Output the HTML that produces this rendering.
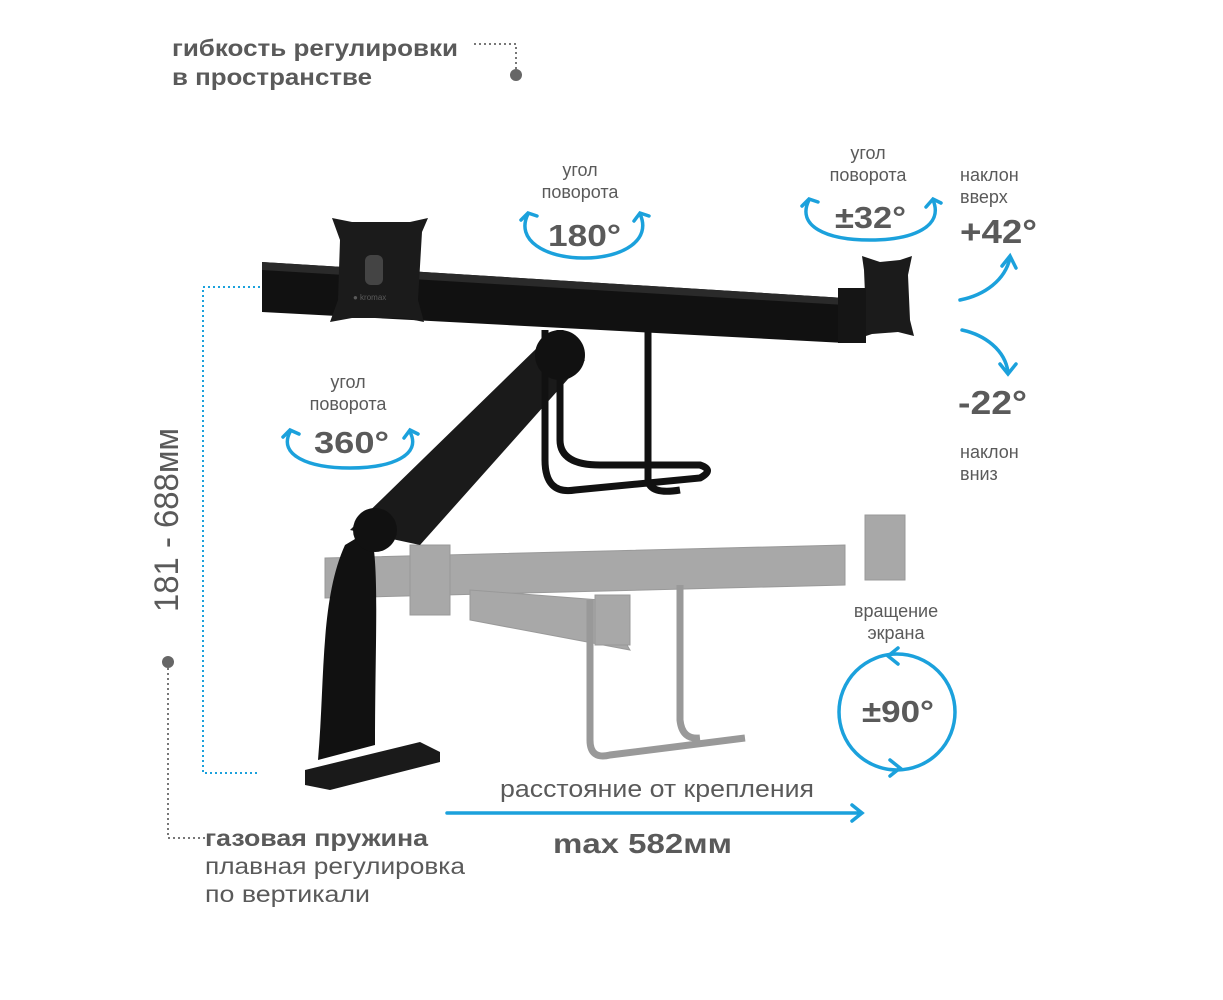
<!DOCTYPE html>
<html><head><meta charset="utf-8"><style>
html,body{margin:0;padding:0;background:#fff;width:1223px;height:1000px;overflow:hidden}
svg{display:block}
text{font-family:"Liberation Sans",sans-serif;fill:#5a5a5a}
</style></head><body>
<svg width="1223" height="1000" viewBox="0 0 1223 1000">
<!-- title -->
<text x="172" y="56" font-size="23" font-weight="bold" textLength="286" lengthAdjust="spacingAndGlyphs">гибкость регулировки</text>
<text x="172" y="85" font-size="23" font-weight="bold" textLength="200" lengthAdjust="spacingAndGlyphs">в пространстве</text>
<path d="M474,44 H516 V70" stroke="#777" stroke-width="2" stroke-dasharray="2,3" fill="none"/>
<circle cx="516" cy="75" r="6" fill="#666"/>
<!-- height dimension -->
<path d="M260,287 H203 V773 H260" stroke="#1ba1dc" stroke-width="2" stroke-dasharray="2,3" fill="none"/>
<text transform="translate(178,520) rotate(-90)" font-size="34" text-anchor="middle" fill="#777" textLength="184" lengthAdjust="spacingAndGlyphs">181 - 688мм</text>
<circle cx="168" cy="662" r="6" fill="#666"/>
<path d="M168,668 V838 H205" stroke="#777" stroke-width="2" stroke-dasharray="2,3" fill="none"/>
<text x="205" y="846" font-size="23" font-weight="bold" textLength="223" lengthAdjust="spacingAndGlyphs">газовая пружина</text>
<text x="205" y="874" font-size="23" textLength="260" lengthAdjust="spacingAndGlyphs">плавная регулировка</text>
<text x="205" y="902" font-size="23" textLength="165" lengthAdjust="spacingAndGlyphs">по вертикали</text>
<!-- ghost lower -->
<g fill="#a8a8a8" stroke="#999">
<polygon points="325,558 845,545 845,585 325,598"/>
<polygon points="470,590 600,600 630,650 470,620"/>
<rect x="595" y="595" width="35" height="50"/>
<rect x="410" y="545" width="40" height="70"/>
<rect x="865" y="515" width="40" height="65"/>
</g>
<path d="M590,600 V740 Q590,760 610,755 L745,738 M680,585 V720 Q682,740 700,738" stroke="#999" stroke-width="7" fill="none"/>
<!-- base + arm -->
<polygon points="305,770 420,742 440,752 440,762 330,790 305,785" fill="#1a1a1a"/>
<path d="M318,760 C325,680 320,600 345,545 L370,530 C380,560 375,640 375,745 Z" fill="#111"/>
<path d="M350,530 L540,345 L585,360 L420,545 Z" fill="#1a1a1a"/>
<circle cx="375" cy="530" r="22" fill="#111"/>
<circle cx="560" cy="355" r="25" fill="#111"/>
<path d="M545,330 V460 Q545,495 575,490 L700,478 Q715,470 700,465 L600,465 Q560,465 560,440 V330 M648,330 V480 Q650,495 680,490" stroke="#111" stroke-width="7" fill="none"/>
<!-- top bar -->
<polygon points="262,262 845,298 845,343 262,312" fill="#111"/>
<polygon points="262,262 845,298 845,305 262,270" fill="#2a2a2a"/>
<!-- left VESA -->
<path d="M332,218 L352,222 L410,222 L428,218 L422,232 L418,300 L424,322 L404,318 L352,318 L330,322 L338,300 L340,240 Z" fill="#1b1b1b"/>
<rect x="365" y="255" width="18" height="30" rx="6" fill="#444"/>
<text x="353" y="300" font-size="8" fill="#1ba1dc">● kromax</text>
<!-- right VESA -->
<path d="M862,256 L880,262 L900,260 L912,256 L908,275 L910,320 L914,336 L898,332 L872,334 L860,338 L866,318 L864,270 Z" fill="#1b1b1b"/>
<rect x="838" y="288" width="28" height="55" fill="#151515"/>
<!-- labels -->
<g font-size="18" text-anchor="middle" fill="#666">
<text x="580" y="176">угол</text><text x="580" y="198">поворота</text>
<text x="868" y="159">угол</text><text x="868" y="181">поворота</text>
<text x="348" y="388">угол</text><text x="348" y="410">поворота</text>
<text x="896" y="617">вращение</text><text x="896" y="639">экрана</text>
</g>
<g font-size="18" fill="#666">
<text x="960" y="181">наклон</text><text x="960" y="203">вверх</text>
<text x="960" y="458">наклон</text><text x="960" y="480">вниз</text>
</g>
<g font-size="31" font-weight="bold" fill="#555">
<text x="548" y="246" textLength="73" lengthAdjust="spacingAndGlyphs">180°</text>
<text x="835" y="228" textLength="71" lengthAdjust="spacingAndGlyphs">±32°</text>
<text x="314" y="453" textLength="75" lengthAdjust="spacingAndGlyphs">360°</text>
<text x="862" y="722" textLength="72" lengthAdjust="spacingAndGlyphs">±90°</text>
</g>
<text x="960" y="243" font-size="33" font-weight="bold" fill="#555" textLength="77" lengthAdjust="spacingAndGlyphs">+42°</text>
<text x="958" y="414" font-size="33" font-weight="bold" fill="#555" textLength="69" lengthAdjust="spacingAndGlyphs">-22°</text>
<!-- arcs -->
<g stroke="#1ba1dc" stroke-width="3.5" fill="none" stroke-linecap="round">
<path d="M528,214 C515,240 545,258 584,258 C623,258 652,240 640,214"/>
<path d="M521,220 L528,213 L537,216 M649,216 L640,213 L634,221"/>
<path d="M809,200 C796,226 826,240 870,240 C914,240 944,226 933,200"/>
<path d="M802,206 L809,199 L818,202 M941,203 L933,199 L926,207"/>
<path d="M290,432 C278,455 308,468 350,468 C392,468 422,455 410,432"/>
<path d="M283,437 L290,430 L299,434 M418,434 L410,430 L404,438"/>
<path d="M960,300 C985,295 1005,280 1010,258"/>
<path d="M1002,266 L1010,256 L1016,268"/>
<path d="M962,330 C985,335 1005,350 1008,372"/>
<path d="M1000,364 L1008,374 L1016,364"/>
<circle cx="897" cy="712" r="58"/>
<path d="M898,648 L888,656 L898,664 M890,760 L900,768 L890,776"/>
<path d="M447,813 H862 M852,805 L862,813 L852,821"/>
</g>
<text x="500" y="797" font-size="24" fill="#6a6a6a" textLength="314" lengthAdjust="spacingAndGlyphs">расстояние от крепления</text>
<text x="553" y="853" font-size="28" font-weight="bold" fill="#555" textLength="179" lengthAdjust="spacingAndGlyphs">max 582мм</text>
</svg>
</body></html>
